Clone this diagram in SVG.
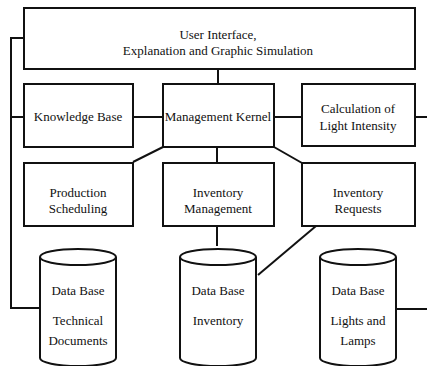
<svg xmlns="http://www.w3.org/2000/svg" width="427" height="366" viewBox="0 0 427 366">
  <style>
    .box { fill: #fff; stroke: #111; stroke-width: 2; }
    .wire { fill: none; stroke: #111; stroke-width: 2; }
  </style>
  <defs>
    <!-- cylinder: body and top rim, 76 wide -->
    <g id="cyl">
      <path class="box" d="M0,8 A38,8 0 0 1 76,8 L76,109 A38,8 0 0 1 0,109 Z"/>
      <path class="wire" d="M0,8 A38,8 0 0 0 76,8"/>
    </g>
  </defs>
  <rect width="427" height="366" fill="#fff"/>

  <g id="connectors">
    <path class="wire" d="M24,38 H11 V308 H40"/>
    <path class="wire" d="M11,117 H24"/>
    <path class="wire" d="M133,117 H163"/>
    <path class="wire" d="M274,117 H302"/>
    <path class="wire" d="M415,117 H427"/>
    <path class="wire" d="M218,69 V84"/>
    <path class="wire" d="M217,147 V163"/>
    <path class="wire" d="M217,226 V246"/>
    <path class="wire" d="M163,147 L133,162"/>
    <path class="wire" d="M274,147 L302,163"/>
    <path class="wire" d="M316,226 L258,275"/>
    <path class="wire" d="M397,309 H427"/>
  </g>

  <g font-family="Liberation Serif, Times New Roman, Times, serif" font-size="13" fill="#111" text-anchor="middle">
  <g id="user-interface">
    <rect class="box" x="24" y="8" width="391" height="61"/>
    <text x="218" y="39">User Interface,</text>
    <text x="218" y="55">Explanation and Graphic Simulation</text>
  </g>

  <g id="knowledge-base">
    <rect class="box" x="24" y="84" width="109" height="63"/>
    <text x="78" y="121">Knowledge Base</text>
  </g>

  <g id="management-kernel">
    <rect class="box" x="163" y="84" width="111" height="63"/>
    <text x="218" y="121">Management Kernel</text>
  </g>

  <g id="light-intensity">
    <rect class="box" x="302" y="84" width="113" height="62"/>
    <text x="358" y="113">Calculation of</text>
    <text x="358" y="130">Light Intensity</text>
  </g>

  <g id="production-scheduling">
    <rect class="box" x="24" y="163" width="109" height="63"/>
    <text x="78" y="197">Production</text>
    <text x="78" y="213">Scheduling</text>
  </g>

  <g id="inventory-management">
    <rect class="box" x="163" y="163" width="111" height="63"/>
    <text x="218" y="197">Inventory</text>
    <text x="218" y="213">Management</text>
  </g>

  <g id="inventory-requests">
    <rect class="box" x="302" y="163" width="113" height="63"/>
    <text x="358" y="197">Inventory</text>
    <text x="358" y="213">Requests</text>
  </g>

  <g id="db-technical-documents">
    <use href="#cyl" x="40" y="249"/>
    <text x="78" y="295">Data Base</text>
    <text x="78" y="325">Technical</text>
    <text x="78" y="345">Documents</text>
  </g>

  <g id="db-inventory">
    <use href="#cyl" x="180" y="249"/>
    <text x="218" y="295">Data Base</text>
    <text x="218" y="325">Inventory</text>
  </g>

  <g id="db-lights-lamps">
    <use href="#cyl" x="320" y="249"/>
    <text x="358" y="295">Data Base</text>
    <text x="358" y="325">Lights and</text>
    <text x="358" y="345">Lamps</text>
  </g>
  </g>
</svg>
